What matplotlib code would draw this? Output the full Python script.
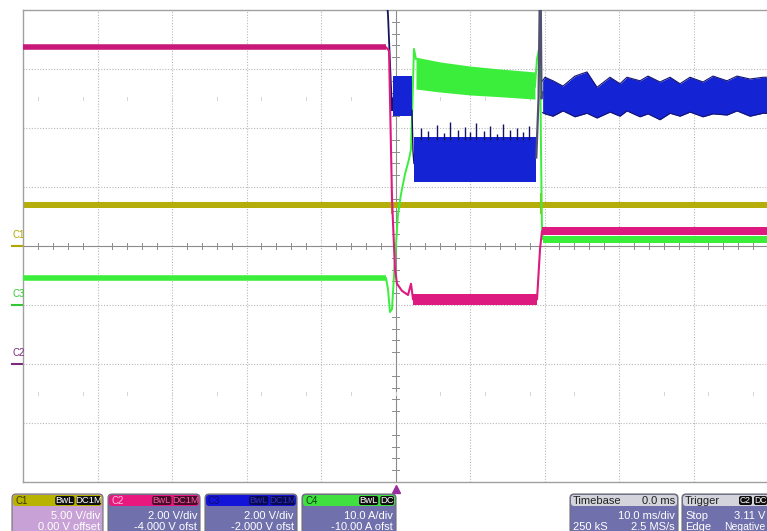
import matplotlib.pyplot as plt
from matplotlib.patches import FancyBboxPatch

plt.rcParams['font.family'] = ['Liberation Sans', 'DejaVu Sans']

# scope screen: 10 ms/div, x in ms, y in divisions
# C1 (yellow) - flat band
c1_lo, c1_hi = 0.64, 0.74
c1_glitch_t = [-0.5, 19.5]
c1_glitch_v = [0.86, 0.9]

# C2 (magenta)
c2_t = [-50, -1.28, -0.87, -0.47, -0.07, 0.20, 0.87, 1.68, 2.08, 2.35]
c2_v = [3.37, 3.37, 3.31, 0.80, -0.39, -0.64, -0.76, -0.83, -0.64, -0.90]
c2_mid_t = [2.35, 19.0]
c2_mid_lo, c2_mid_hi = -1.0, -0.82
c2_rise_t = [19.0, 19.4, 19.66]
c2_rise_v = [-0.9, -0.05, 0.25]
c2_end_t = [19.66, 50]
c2_end_lo, c2_end_hi = 0.19, 0.33

# C4 (green)
c4_t = [-50, -1.28, -1.01, -0.74, -0.47, -0.07, 0.34, 0.74, 1.28, 1.81, 2.08, 2.21, 2.48, 2.75]
c4_v = [-0.54, -0.54, -0.73, -1.12, -1.07, -0.22, 0.54, 0.88, 1.22, 1.47, 1.64, 2.15, 3.34, 3.17]
c4_band_t = [2.75, 5.97, 10.0, 14.03, 18.72]
c4_band_hi = [3.20, 3.12, 3.05, 3.00, 2.95]
c4_band_lo = [2.66, 2.61, 2.56, 2.53, 2.49]
c4_rise_t = [18.72, 18.99, 19.4, 19.53, 19.66, 19.8]
c4_rise_v = [2.7, 3.17, 3.42, 1.64, 0.29, 0.12]
c4_end_t = [19.8, 50]
c4_end_lo, c4_end_hi = 0.05, 0.17

# C3 (blue)
c3_fall_t = [-1.45, -1.28, -1.01, -0.74, -0.47, -0.34]
c3_fall_v = [4.4, 4.3, 3.93, 3.1, 2.3, 2.5]
c3_b1_t = [-0.34, 2.21]
c3_b1_lo, c3_b1_hi = 2.20, 2.88
c3_drop_t = [2.21, 2.35, 2.48]
c3_drop_v = [2.3, 1.6, 1.4]
c3_b2_t = [2.48, 18.9]
c3_b2_lo, c3_b2_hi = 1.08, 1.85
c3_spike_t = [3.42, 4.36, 5.57, 6.51, 7.32, 8.39, 9.33, 10.0, 10.81, 11.88,
              12.68, 13.62, 14.43, 15.37, 16.31, 17.11, 17.92]
c3_spike_v = [2.0, 1.95, 2.05, 1.92, 2.1, 1.97, 2.02, 1.93, 2.08, 1.95,
              2.03, 1.9, 2.06, 1.96, 2.0, 1.94, 2.04]
c3_rise_t = [18.9, 19.2, 19.35, 19.5, 19.6, 19.75]
c3_rise_v = [1.5, 2.5, 4.05, 4.05, 2.5, 2.6]
c3_end_t = [19.75, 20.07, 21.14, 22.48, 24.09, 25.70, 27.05, 28.79, 30.13, 31.07, 32.82,
            33.89, 35.50, 36.85, 38.19, 39.53, 41.28, 42.62, 44.50, 45.84, 47.58, 49.33, 50]
c3_end_hi = [2.80, 2.86, 2.80, 2.71, 2.88, 2.95, 2.69, 2.86, 2.75, 2.86, 2.80,
             2.88, 2.78, 2.86, 2.75, 2.86, 2.78, 2.88, 2.80, 2.88, 2.83, 2.86, 2.86]
c3_end_lo = [2.26, 2.24, 2.20, 2.29, 2.19, 2.25, 2.17, 2.27, 2.20, 2.29, 2.19,
             2.24, 2.14, 2.25, 2.20, 2.27, 2.19, 2.24, 2.22, 2.29, 2.20, 2.25, 2.25]

# channel markers on the left (offset in divisions)
marker_names = ['C1', 'C3', 'C2']
marker_levels = [0, -1, -2]
marker_colors = ['#b0a800', '#33c833', '#7a2a7a']

# info boxes
ch_names = ['C1', 'C2', 'C3', 'C4']
ch_scale = ['5.00 V/div', '2.00 V/div', '2.00 V/div', '10.0 A/div']
ch_offset = ['0.00 V offset', '-4.000 V ofst', '-2.000 V ofst', '-10.00 A ofst']
ch_badges = [['BwL', 'DC1M'], ['BwL', 'DC1M'], ['BwL', 'DC1M'], ['BwL', 'DC']]

YEL = '#b5ad0a'
MAG = '#dc1a80'
GRN = '#3cee3c'
BLU = '#1424d4'

fig = plt.figure(figsize=(7.67, 5.31), dpi=100)
fig.patch.set_facecolor('white')

ax = fig.add_axes([23 / 767, 49 / 531, 745 / 767, 472 / 531])
ax.set_xlim(-50, 50)
ax.set_ylim(-4, 4)
ax.set_xticks([])
ax.set_yticks([])
for s in ['left', 'top', 'bottom']:
    ax.spines[s].set_color('#a0a0a0')
    ax.spines[s].set_linewidth(1.0)
ax.spines['right'].set_visible(False)

# grid
for gx in range(-40, 50, 10):
    if gx != 0:
        ax.axvline(gx, color='#b8b8b8', lw=0.8, ls=(0, (1, 1.5)), zorder=0)
for gy in range(-3, 4):
    if gy != 0:
        ax.axhline(gy, color='#b8b8b8', lw=0.8, ls=(0, (1, 1.5)), zorder=0)
ax.axhline(0, color='#8c8c8c', lw=0.8, zorder=0)
ax.axvline(0, color='#8c8c8c', lw=0.8, zorder=0)
for k in range(-25, 26):
    if k % 5:
        ax.plot([k * 2, k * 2], [-0.05, 0.05], color='#8c8c8c', lw=0.7, zorder=0)
for k in range(-20, 21):
    if k % 5:
        ax.plot([-0.5, 0.5], [k * 0.2, k * 0.2], color='#8c8c8c', lw=0.7, zorder=0)
for k in range(-24, 25, 3):
    for yy in [2.5, -2.5]:
        ax.plot([k * 2, k * 2], [yy - 0.03, yy + 0.03], color='#d6d6d6', lw=0.7, zorder=0)

# C1 yellow
ax.fill_between([-50, 50], c1_lo, c1_hi, color=YEL, lw=0, zorder=2)
ax.vlines(c1_glitch_t, 0.55, c1_glitch_v, color=YEL, lw=1.5, zorder=2)

# C4 green
ax.plot([-50, -1.28], [-0.54, -0.54], color=GRN, lw=4, zorder=3, solid_capstyle='butt')
ax.plot(c4_t, c4_v, color=GRN, lw=1.4, zorder=3)
ax.fill_between(c4_band_t, c4_band_lo, c4_band_hi, color=GRN, lw=0, zorder=3)
ax.plot(c4_rise_t, c4_rise_v, color=GRN, lw=1.4, zorder=3)
ax.fill_between(c4_end_t, c4_end_lo, c4_end_hi, color=GRN, lw=0, zorder=3)

# C3 blue
ax.plot(c3_fall_t, c3_fall_v, color='#141460', lw=1.3, zorder=4)
ax.fill_between(c3_b1_t, c3_b1_lo, c3_b1_hi, color=BLU, lw=0, zorder=4)
ax.plot(c3_drop_t, c3_drop_v, color='#141460', lw=1.0, zorder=4)
ax.fill_between(c3_b2_t, c3_b2_lo, c3_b2_hi, color=BLU, lw=0, zorder=4)
ax.vlines(c3_spike_t, c3_b2_hi - 0.05, c3_spike_v, color='#141460', lw=1.0, zorder=4)
ax.plot(c3_rise_t, c3_rise_v, color='#505070', lw=1.6, zorder=4)
ax.fill_between(c3_end_t, c3_end_lo, c3_end_hi, color=BLU, lw=0, zorder=4)
ax.plot(c3_end_t, c3_end_hi, color='#141470', lw=0.8, zorder=4)
ax.plot(c3_end_t, c3_end_lo, color='#141470', lw=0.8, zorder=4)

# C2 magenta
ax.plot(c2_t, c2_v, color=MAG, lw=1.5, zorder=5)
ax.plot(c2_t[:2], c2_v[:2], color='#c8187a', lw=4, zorder=5, solid_capstyle='butt')
ax.fill_between(c2_mid_t, c2_mid_lo, c2_mid_hi, color=MAG, lw=0, zorder=5)
ax.plot(c2_rise_t, c2_rise_v, color=MAG, lw=1.5, zorder=5)
ax.fill_between(c2_end_t, c2_end_lo, c2_end_hi, color=MAG, lw=0, zorder=5)

# channel markers
for name, lev, col in zip(marker_names, marker_levels, marker_colors):
    ax.plot([-51.5, -50.1], [lev, lev], color=col, lw=1.5, clip_on=False)
    ax.text(-51.4, lev + 0.1, name, color=col, fontsize=7, ha='left', va='bottom', clip_on=False)

# trigger marker
ax.plot([0], [-4.12], marker='^', color='#9a2e9e', ms=6, clip_on=False)

# bottom info panels in pixel coordinates
ov = fig.add_axes([0, 0, 1, 1], zorder=10)
ov.set_xlim(0, 767)
ov.set_ylim(531, 0)
ov.axis('off')
ov.patch.set_alpha(0)

BODY = '#7070ac'
head_cols = ['#b8b200', '#e8187e', '#1414d8', '#40e040']
body_cols = ['#c8a2d6', BODY, BODY, BODY]
name_cols = ['#3a3600', '#ffc0e0', '#0a0a70', '#0a400a']
badge_fc = ['#101010', '#4a0a2a', '#0a0a50', '#101010']
badge_tc = ['white', '#f060a0', '#3030c0', 'white']
box_x = [(12, 103), (108, 200), (205, 297), (302, 396)]

for i, (x0, x1) in enumerate(box_x):
    ov.add_patch(FancyBboxPatch((x0, 494), x1 - x0, 45, boxstyle='round,pad=0,rounding_size=4',
                                fc=body_cols[i], ec='#707070', lw=0.8))
    ov.add_patch(FancyBboxPatch((x0 + 1, 495), x1 - x0 - 2, 11, boxstyle='round,pad=0,rounding_size=3',
                                fc=head_cols[i], ec='none'))
    ov.text(x0 + 3, 500.5, ch_names[i], color=name_cols[i], fontsize=7, va='center')
    bx = x1 - 2
    for lab in reversed(ch_badges[i]):
        w = 5.4 * len(lab) + 3
        ov.add_patch(FancyBboxPatch((bx - w, 496), w, 9, boxstyle='round,pad=0,rounding_size=2',
                                    fc=badge_fc[i], ec='none'))
        ov.text(bx - w / 2, 500.5, lab, color=badge_tc[i], fontsize=6.8, ha='center', va='center')
        bx -= w + 2
    ov.text(x1 - 3, 516, ch_scale[i], color='white', fontsize=8, ha='right', va='center')
    ov.text(x1 - 3, 527.5, ch_offset[i], color='white', fontsize=8, ha='right', va='center')

# timebase
ov.add_patch(FancyBboxPatch((570, 494), 108, 45, boxstyle='round,pad=0,rounding_size=4',
                            fc=BODY, ec='#707070', lw=0.8))
ov.add_patch(FancyBboxPatch((571, 495), 106, 11, boxstyle='round,pad=0,rounding_size=3',
                            fc='#d4d4dc', ec='none'))
ov.text(573, 500.5, 'Timebase', color='#202020', fontsize=8, va='center')
ov.text(675, 500.5, '0.0 ms', color='#202020', fontsize=8, va='center', ha='right')
ov.text(675, 516, '10.0 ms/div', color='white', fontsize=8, va='center', ha='right')
ov.text(573, 527.5, '250 kS', color='white', fontsize=8, va='center')
ov.text(675, 527.5, '2.5 MS/s', color='white', fontsize=8, va='center', ha='right')

# trigger
ov.add_patch(FancyBboxPatch((682, 494), 100, 45, boxstyle='round,pad=0,rounding_size=4',
                            fc=BODY, ec='#707070', lw=0.8))
ov.add_patch(FancyBboxPatch((683, 495), 98, 11, boxstyle='round,pad=0,rounding_size=3',
                            fc='#d4d4dc', ec='none'))
ov.text(685, 500.5, 'Trigger', color='#202020', fontsize=8, va='center')
for bx0, lab in [(739, 'C2'), (754, 'DC')]:
    ov.add_patch(FancyBboxPatch((bx0, 496), 13, 9, boxstyle='round,pad=0,rounding_size=2',
                                fc='#101010', ec='none'))
    ov.text(bx0 + 6.5, 500.5, lab, color='white', fontsize=6.2, ha='center', va='center')
ov.text(685, 516, 'Stop', color='white', fontsize=8, va='center')
ov.text(765, 516, '3.11 V', color='white', fontsize=8, va='center', ha='right')
ov.text(685, 527.5, 'Edge', color='white', fontsize=8, va='center')
ov.text(765, 527.5, 'Negative', color='white', fontsize=7.5, va='center', ha='right')

fig.savefig('out.png', dpi=100)
